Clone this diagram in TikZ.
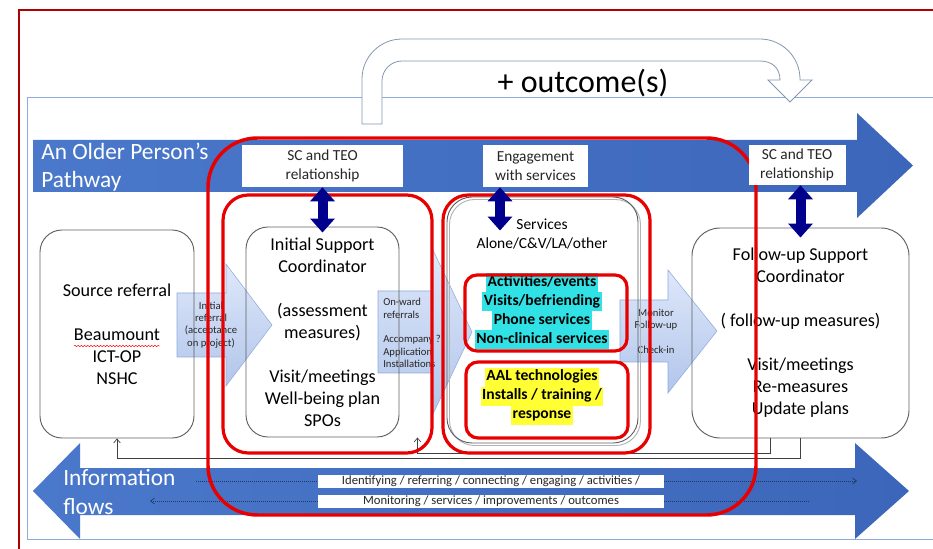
\documentclass[tikz,border=0pt]{standalone}
\usepackage{fontspec}
\setmainfont{Carlito}
\usetikzlibrary{arrows.meta,calc,decorations.pathmorphing}

\definecolor{framered}{RGB}{176,0,0}
\definecolor{frameblue}{RGB}{143,170,220}
\definecolor{loopedge}{RGB}{132,151,176}
\definecolor{bandblue}{RGB}{74,120,202}
\definecolor{banddark}{RGB}{60,102,186}
\definecolor{navyarrow}{RGB}{0,0,140}
\definecolor{groupred}{RGB}{232,0,0}
\definecolor{boxgray}{RGB}{95,95,95}
\definecolor{hlcyan}{RGB}{48,226,230}
\definecolor{hlyellow}{RGB}{255,255,51}
\definecolor{flowtop}{RGB}{214,226,248}
\definecolor{flowbottom}{RGB}{158,183,230}
\definecolor{flowedge}{RGB}{143,170,220}
\definecolor{dotline}{RGB}{32,56,100}
\definecolor{labeltext}{RGB}{38,38,38}

% one highlighted line of text, boxes of consecutive lines touch
\newcommand\hlline[2]{{\setlength{\fboxsep}{0pt}\colorbox{#1}{\kern1.2pt\strut#2\kern1.2pt}}}

\begin{document}
\begin{tikzpicture}[x=0.75pt,y=-0.75pt,
  stage/.style={draw=boxgray,line width=0.7pt,align=center,inner sep=0pt,
    font=\fontsize{13.6}{16.5}\selectfont,text=black},
  grouping/.style={draw=groupred,line width=2.4pt},
  bandlabel/.style={fill=white,inner sep=0pt,align=center,text=labeltext,
    font=\fontsize{11.5}{14}\selectfont,minimum height=31.5pt},
  flowarrow/.style={top color=flowtop,bottom color=flowbottom,draw=flowedge,
    line width=0.4pt,fill opacity=0.8},
  flowtext/.style={inner sep=0pt,text=labeltext,font=\fontsize{8}{9.3}\selectfont},
  tie/.style={navyarrow,line width=7.5pt,
    {Triangle[length=10.5pt,width=18pt]}-{Triangle[length=10.5pt,width=18pt]}},
  feedback/.style={draw=black!75,line width=0.5pt,-{Straight Barb[length=3pt,width=5pt]}},
  infolabel/.style={fill=white,inner sep=0pt,minimum width=259.5pt,minimum height=9.75pt,
    font=\fontsize{9.5}{10}\selectfont,text=labeltext},
  infoline/.style={draw=dotline,densely dotted,line width=0.5pt},
  flowtip/.style={-{Straight Barb[length=3pt,width=4.5pt]}},
  bandtitle/.style={text=white,align=left,inner sep=0pt,anchor=west,
    font=\fontsize{17.5}{20.5}\selectfont},
]
\clip (0,0) rectangle (933,549);

% frames
\draw[framered,line width=0.9pt] (19,10) rectangle (960,575);
\draw[frameblue,line width=0.75pt] (27,98) rectangle (960,539);

% looping outcome arrow
\draw[loopedge,line width=0.6pt,fill=white]
  (362,124) -- (362,79) .. controls (362,57) and (380,39) .. (402,39)
  -- (760,39) .. controls (782,39) and (800,57) .. (800,79)
  -- (800,80) -- (812,80) -- (790,102) -- (768,80) -- (780,80)
  .. controls (780,68) and (772,61) .. (760,61)
  -- (402,61) .. controls (391,61) and (382,70) .. (382,81)
  -- (382,124) -- cycle;
\node[font=\fontsize{24}{28}\selectfont] (outcome) at (583,83) {+ outcome(s)};

% pathway band
\shade[left color=bandblue,right color=banddark]
  (33,140) -- (857,140) -- (857,113) -- (913,165.5) -- (857,218) -- (857,192) -- (33,192) -- cycle;
\node[bandtitle] (pathway) at (41,167) {An Older Person’s\\Pathway};

% information flow band
\shade[left color=bandblue,right color=banddark]
  (33,491) -- (80,443) -- (80,468) -- (855,468) -- (855,443) -- (909,491)
  -- (855,539) -- (855,515) -- (80,515) -- (80,539) -- cycle;
\node[bandtitle,font=\fontsize{17.5}{21.5}\selectfont] (info) at (63,492) {Information\\flows};

% hand-over arrows
\shadedraw[flowarrow] (177,293) -- (226,293) -- (226,264) -- (272,325)
  -- (226,386) -- (226,357) -- (177,357) -- cycle;
\node[flowtext,align=center] (initref) at (211,325) {Initial\\referral\\(acceptance\\on project)};

\shadedraw[flowarrow] (378,291) -- (432,291) -- (432,248) -- (472,332)
  -- (432,416) -- (432,373) -- (378,373) -- cycle;
\node[flowtext,align=left,anchor=west] (onward) at (383,333)
  {On-ward\\referrals\\[9.3pt]Accompany ?\\Application\\Installations};

\shadedraw[flowarrow] (620,300) -- (668,300) -- (668,270) -- (717,331)
  -- (668,393) -- (668,362) -- (620,362) -- cycle;
\node[flowtext,align=center] (monitor) at (656,331) {Monitor\\Follow-up\\[9.3pt]Check-in};

% stages
\node[stage,minimum width=115.5pt,minimum height=156pt,rounded corners=16.5pt] (src) at (117,334)
  {Source referral\\[16.5pt]Beaumount\\ICT-OP\\NSHC};
\draw[red,line width=0.35pt,decorate,decoration={snake,amplitude=0.5pt,segment length=2.4pt}]
  ($(src.center)+(-43,12)$) -- ($(src.center)+(43,12)$);

\node[stage,minimum width=114.75pt,minimum height=157.5pt,rounded corners=16.5pt] (isc) at (322.5,332)
  {Initial Support\\Coordinator\\[16.5pt](assessment\\measures)\\[16.5pt]Visit/meetings\\Well-being plan\\SPOs};

\draw[black!30,line width=0.7pt,rounded corners=18.75pt] (449.5,199.5) rectangle (640.5,445.5);
\node[stage,minimum width=143.25pt,minimum height=184.5pt,rounded corners=18.75pt] (svc) at (542.5,320) {};
\node[align=center,inner sep=0pt,font=\fontsize{11.6}{14.25}\selectfont] (svctext) at (542,234)
  {Services\\Alone/C\&V/LA/other};
\node[align=center,inner sep=0pt,font=\fontsize{11.7}{14.25}\selectfont\bfseries] (social) at (542,311)
  {\hlline{hlcyan}{Activities/events}\\\hlline{hlcyan}{Visits/befriending}\\
   \hlline{hlcyan}{Phone services}\\\hlline{hlcyan}{Non-clinical services}};
\node[align=center,inner sep=0pt,font=\fontsize{11.7}{14.25}\selectfont\bfseries] (aal) at (542,396)
  {\hlline{hlyellow}{AAL technologies}\\\hlline{hlyellow}{Installs / training /}\\
   \hlline{hlyellow}{response}};

\node[stage,minimum width=162.75pt,minimum height=157.5pt,rounded corners=21pt] (fu) at (800.5,333)
  {Follow-up Support\\Coordinator\\[16.5pt]( follow-up measures)\\[16.5pt]Visit/meetings\\Re-measures\\Update plans};

% feedback lines
\draw[feedback] ($(fu.south)+(-30,0)$) -- ++(0,15) -| ($(isc.south east)+(18,0)$);
\draw[feedback] (fu.south) -- ++(0,20) -| (src.south);

% information flow labels
\node[infolabel] (fwdlab) at (491,481) {Identifying / referring / connecting / engaging / activities /};
\node[infolabel] (backlab) at (491,501) {Monitoring / services / improvements / outcomes};
\coordinate (fwdstart) at (196,481);
\coordinate (fwdend) at (857,481);
\coordinate (backstart) at (809,501);
\coordinate (backend) at (150,501);
\draw[infoline] (fwdstart) -- (fwdlab.west);
\draw[infoline,flowtip] (fwdlab.east) -- (fwdend);
\draw[infoline] (backstart) -- (backlab.east);
\draw[infoline,flowtip] (backlab.west) -- (backend);

% groupings
\draw[grouping,line width=2.6pt,rounded corners=37pt] (208,138) rectangle (756,515);
\draw[grouping,rounded corners=19pt] (223,195) rectangle (432,453);
\draw[grouping,rounded corners=19pt] (443,195) rectangle (650,453);
\draw[grouping,rounded corners=9pt] (465,275) rectangle (627,351);
\draw[grouping,rounded corners=9pt] (466,362) rectangle (628,438);

% relationship labels on the pathway
\node[bandlabel,minimum width=120.75pt] (sc1) at (322.5,166) {SC and TEO\\relationship};
\node[bandlabel,minimum width=78.75pt] (eng) at (535.5,166) {Engagement\\with services};
\node[bandlabel,minimum width=72.75pt,minimum height=30pt] (sc3) at (797,165) {SC and TEO\\relationship};

% relationship ties
\coordinate (engx) at (500,0);
\draw[tie] (sc1.south) -- ($(isc.north)+(0,6)$);
\draw[tie] (eng.south -| engx) -- ($(svc.north -| engx)+(0,34)$);
\draw[tie] (sc3.south -| fu.north) -- ($(fu.north)+(0,10)$);
\end{tikzpicture}
\end{document}
